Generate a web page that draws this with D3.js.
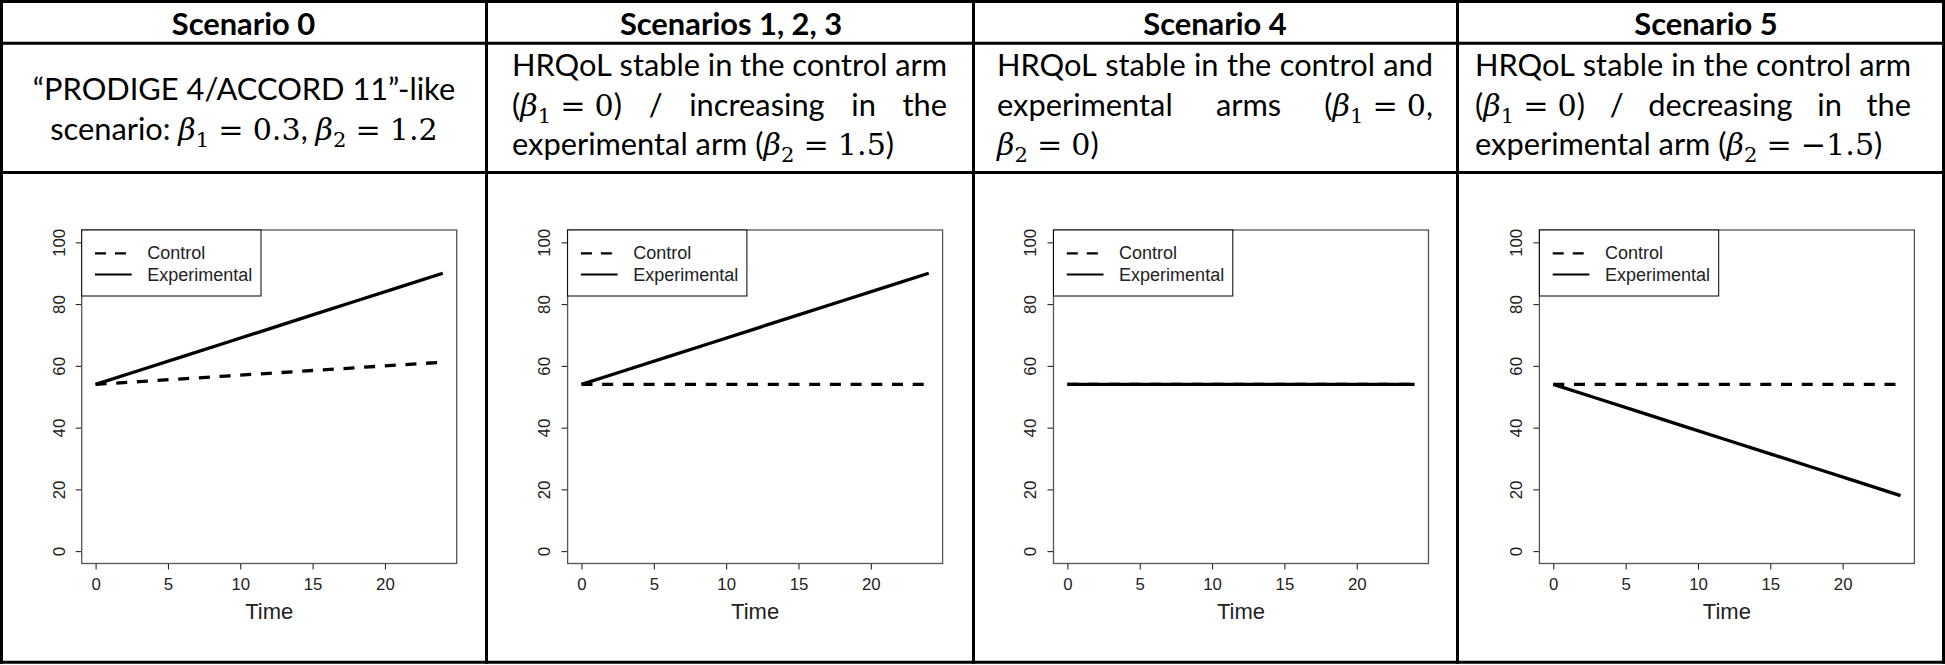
<!DOCTYPE html>
<html><head><meta charset="utf-8">
<script src="https://cdn.jsdelivr.net/npm/d3@7"></script>
<style>body{margin:0;background:#fff}svg{display:block}</style>
</head><body>
<svg id="c" width="1945" height="665"></svg>
<script>
// ---------------- data ----------------
const headers = ["Scenario 0", "Scenarios 1, 2, 3", "Scenario 4", "Scenario 5"];
const descriptions = [
  ["“PRODIGE 4/ACCORD 11”-like", "scenario: $β_1 = 0.3$, $β_2 = 1.2$"],
  ["HRQoL stable in the control arm", "($β_1 = 0$) / increasing in the", "experimental arm ($β_2 = 1.5$)"],
  ["HRQoL stable in the control and", "experimental arms ($β_1 = 0$,", "$β_2 = 0$)"],
  ["HRQoL stable in the control arm", "($β_1 = 0$) / decreasing in the", "experimental arm ($β_2 = −1.5$)"]
];
const descAlign = [
  ["center", "center"],
  ["justify", "justify", "left"],
  ["justify", "justify", "left"],
  ["justify", "justify", "left"]
];
const time = [0, 3, 6, 9, 12, 15, 18, 21, 24];
const control0      = [54, 54.9, 55.8, 56.7, 57.6, 58.5, 59.4, 60.3, 61.2];
const experimental0 = [54, 58.5, 63, 67.5, 72, 76.5, 81, 85.5, 90];
const control123      = [54, 54, 54, 54, 54, 54, 54, 54, 54];
const experimental123 = [54, 58.5, 63, 67.5, 72, 76.5, 81, 85.5, 90];
const control4      = [54, 54, 54, 54, 54, 54, 54, 54, 54];
const experimental4 = [54, 54, 54, 54, 54, 54, 54, 54, 54];
const control5      = [54, 54, 54, 54, 54, 54, 54, 54, 54];
const experimental5 = [54, 49.5, 45, 40.5, 36, 31.5, 27, 22.5, 18];
const yTicks = [0, 20, 40, 60, 80, 100];
const xTicks = [0, 5, 10, 15, 20];
const legendLabels = ["Control", "Experimental"];
const xLabel = "Time";

const panels = [
  {control: control0, experimental: experimental0},
  {control: control123, experimental: experimental123},
  {control: control4, experimental: experimental4},
  {control: control5, experimental: experimental5}
];

// ---------------- layout ----------------
const svg = d3.select("#c");
const BODY_FONT = "Lato, 'Open Sans', sans-serif";
const MATH_FONT = "'DejaVu Serif', serif";
const AXIS_FONT = "'Liberation Sans', Arial, sans-serif";

const colEdges = [1.5, 486.5, 973.5, 1457.5, 1943.5];
const rowEdges = [1.5, 43.3, 172.5, 662.3];
const headerCenters = [243.5, 731, 1215, 1706];
const textBoxes = [[30, 458], [512, 947], [997, 1433], [1475, 1911]];

function measure(str, font, size, weight, style) {
  const t = svg.append("text").attr("font-family", font).attr("font-size", size)
    .attr("font-weight", weight || "normal").attr("font-style", style || "normal").text(str);
  const w = t.node().getComputedTextLength();
  t.remove();
  return w;
}
const bodySize = 30 * 435 / measure("HRQoL stable in the control arm", BODY_FONT, 30);
const headSize = 30 * 143.5 / measure("Scenario 0", BODY_FONT, 30, "bold");
const mathSize = bodySize * 0.98;

// grid
const grid = svg.append("g").attr("stroke", "#000").attr("stroke-width", 3).attr("stroke-linecap", "square");
rowEdges.forEach(y => grid.append("line").attr("x1", colEdges[0]).attr("x2", colEdges[4]).attr("y1", y).attr("y2", y));
colEdges.forEach(x => grid.append("line").attr("x1", x).attr("x2", x).attr("y1", rowEdges[0]).attr("y2", rowEdges[3]));

// headers
headers.forEach((h, i) => {
  svg.append("text").attr("x", headerCenters[i]).attr("y", 35).attr("text-anchor", "middle")
    .attr("font-family", BODY_FONT).attr("font-weight", "bold").attr("font-size", headSize)
    .attr("fill", "#000").text(h);
});

// description text with inline math
function splitWords(line) {
  const words = []; let cur = ""; let inMath = false;
  for (const c of line) {
    if (c === "$") { inMath = !inMath; cur += c; }
    else if (c === " " && !inMath) { if (cur) words.push(cur); cur = ""; }
    else cur += c;
  }
  if (cur) words.push(cur);
  return words;
}
function parseWord(word) {
  const runs = [];
  const segs = word.split("$");
  segs.forEach((seg, k) => {
    if (!seg) return;
    if (k % 2 === 0) { runs.push({kind: "t", text: seg}); return; }
    const chars = [...seg];
    for (let i = 0; i < chars.length; i++) {
      const c = chars[i];
      if (c === "_") { runs.push({kind: "sub", text: chars[i + 1]}); i++; }
      else if (c === " ") runs.push({kind: "space"});
      else if (c === "β") runs.push({kind: "mi", text: c});
      else {
        const last = runs[runs.length - 1];
        if (last && last.kind === "m") last.text += c; else runs.push({kind: "m", text: c});
      }
    }
  });
  return runs;
}
function drawWord(parent, word) {
  const g = parent.append("g");
  let x = 0;
  parseWord(word).forEach(r => {
    if (r.kind === "space") { x += 0.3 * mathSize; return; }
    const t = g.append("text").attr("x", x).attr("fill", "#000");
    if (r.kind === "t") t.attr("font-family", BODY_FONT).attr("font-size", bodySize).attr("y", 0);
    else if (r.kind === "mi") t.attr("font-family", MATH_FONT).attr("font-style", "italic").attr("font-size", mathSize).attr("y", 0);
    else if (r.kind === "m") t.attr("font-family", MATH_FONT).attr("font-size", mathSize).attr("y", 0);
    else if (r.kind === "sub") t.attr("font-family", MATH_FONT).attr("font-size", mathSize * 0.7).attr("y", mathSize * 0.24);
    t.text(r.text);
    x += t.node().getComputedTextLength();
  });
  return {g, w: x};
}
const spaceW = measure("a a", BODY_FONT, bodySize) - measure("aa", BODY_FONT, bodySize);

descriptions.forEach((lines, ci) => {
  const [L, R] = textBoxes[ci];
  const baselines = ci === 0 ? [100, 139.5] : [76, 115.5, 155];
  lines.forEach((line, li) => {
    const lg = svg.append("g");
    const words = splitWords(line).map(w => drawWord(lg, w));
    const total = d3.sum(words, d => d.w);
    const align = descAlign[ci][li];
    let gap = spaceW, x0 = L;
    if (align === "justify" && words.length > 1) gap = (R - L - total) / (words.length - 1);
    if (align === "center") x0 = (colEdges[ci] + colEdges[ci + 1]) / 2 - (total + gap * (words.length - 1)) / 2;
    let x = x0;
    words.forEach(w => { w.g.attr("transform", `translate(${x},${baselines[li]})`); x += w.w + gap; });
  });
});

// ---------------- charts ----------------
const boxW = 375, boxTop = 230, boxBottom = 563.5;
panels.forEach((p, i) => {
  const left = 81.7 + i * 485.9;
  const x = d3.scaleLinear().domain([-0.96, 24.96]).range([left, left + boxW]);
  const y = d3.scaleLinear().domain([-4, 104]).range([boxBottom, boxTop]);
  const g = svg.append("g");

  // axes
  const ya = g.append("g").attr("transform", `translate(${left},0)`)
    .call(d3.axisLeft(y).tickValues(yTicks).tickSize(6).tickFormat(d3.format("d")));
  ya.select(".domain").remove();
  ya.selectAll(".tick line").attr("stroke", "#111").attr("stroke-width", 1);
  ya.selectAll(".tick text").attr("x", 0).attr("dy", 0).attr("text-anchor", "middle")
    .attr("transform", "translate(-17.2,0) rotate(-90)")
    .attr("font-family", AXIS_FONT).attr("font-size", 16.8).attr("fill", "#222");

  const xa = g.append("g").attr("transform", `translate(0,${boxBottom})`)
    .call(d3.axisBottom(x).tickValues(xTicks).tickSize(6).tickFormat(d3.format("d")));
  xa.select(".domain").remove();
  xa.selectAll(".tick line").attr("stroke", "#111").attr("stroke-width", 1);
  xa.selectAll(".tick text").attr("y", 26.5).attr("dy", 0)
    .attr("font-family", AXIS_FONT).attr("font-size", 16.8).attr("fill", "#222");

  g.append("text").attr("x", left + boxW / 2).attr("y", boxBottom + 55).attr("text-anchor", "middle")
    .attr("font-family", AXIS_FONT).attr("font-size", 22).attr("fill", "#222").text(xLabel);

  // box
  g.append("rect").attr("x", left).attr("y", boxTop).attr("width", boxW).attr("height", boxBottom - boxTop)
    .attr("fill", "none").attr("stroke", "#555").attr("stroke-width", 1.3);

  // lines
  const line = key => d3.line().x((d, k) => x(time[k])).y(d => y(d))(p[key]);
  g.append("path").attr("d", line("control")).attr("fill", "none").attr("stroke", "#000")
    .attr("stroke-width", 3.3).attr("stroke-dasharray", "11,9.7");
  g.append("path").attr("d", line("experimental")).attr("fill", "none").attr("stroke", "#000")
    .attr("stroke-width", 3.3);

  // legend
  g.append("rect").attr("x", left).attr("y", boxTop).attr("width", 179.3).attr("height", 66)
    .attr("fill", "#fff").attr("stroke", "#000").attr("stroke-width", 1);
  const ly = [253.3, 274.5], lb = [258.8, 281];
  legendLabels.forEach((lab, k) => {
    g.append("line").attr("x1", left + 13.3).attr("x2", left + 50).attr("y1", ly[k]).attr("y2", ly[k])
      .attr("stroke", "#000").attr("stroke-width", 2.2).attr("stroke-dasharray", k === 0 ? "11,9" : null);
    g.append("text").attr("x", left + 65.6).attr("y", lb[k]).attr("font-family", AXIS_FONT)
      .attr("font-size", 18).attr("fill", "#222").text(lab);
  });
});
</script>
</body></html>
